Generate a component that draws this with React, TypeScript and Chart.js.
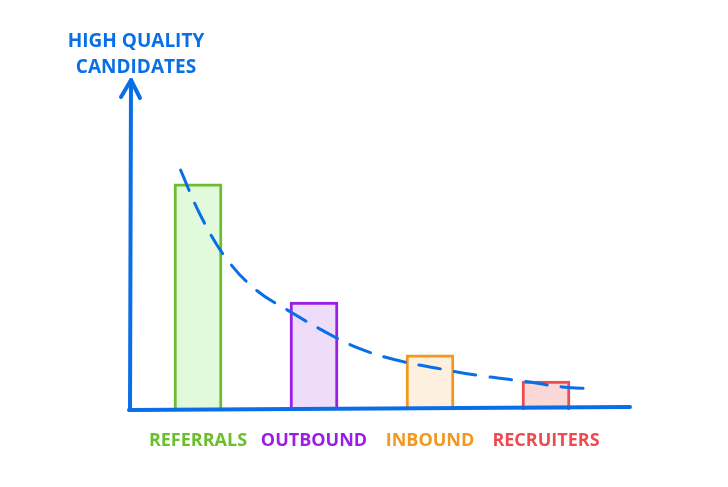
import React, { useEffect, useRef } from "react";
import { Chart, registerables } from "chart.js";

Chart.register(...registerables);

const categories = ["REFERRALS", "OUTBOUND", "INBOUND", "RECRUITERS"];
const candidateValues = [68.5, 32.7, 16.7, 8.8];
const trendX = [0.35, 0.52, 0.74, 1.0, 1.3, 1.6, 1.9, 2.25, 2.6, 2.95, 3.29, 3.64, 3.9];
const trendY = [72.7, 59.1, 46.1, 36.4, 29.7, 23.6, 18.5, 14.8, 12.4, 10.3, 8.8, 7.0, 6.4];
const titleLines = ["HIGH QUALITY", "CANDIDATES"];

const BLUE = "#0a6fe6";
const borderColors = ["#6bbf2c", "#9a1ee6", "#f2981e", "#ee4b50"];
const fillColors = ["#e1fadc", "#eedcfb", "#fdf0df", "#fbd8d8"];

const handFont = "'Open Sans', 'DejaVu Sans', sans-serif";

const axesPlugin = {
  id: "handAxes",
  afterDatasetsDraw(chart: any) {
    const { ctx, chartArea } = chart;
    const ax = chartArea.left - 10;
    const bottom = chartArea.bottom;
    ctx.save();
    ctx.strokeStyle = BLUE;
    ctx.lineWidth = 4;
    ctx.lineCap = "round";
    ctx.lineJoin = "round";
    ctx.beginPath();
    ctx.moveTo(ax, bottom);
    ctx.lineTo(ax + 1, chartArea.top);
    ctx.stroke();
    ctx.beginPath();
    ctx.moveTo(ax - 9, chartArea.top + 17);
    ctx.lineTo(ax + 1, chartArea.top);
    ctx.lineTo(ax + 10, chartArea.top + 18);
    ctx.stroke();
    ctx.beginPath();
    ctx.moveTo(ax - 1, bottom);
    ctx.lineTo(chartArea.right + 26, bottom - 3);
    ctx.stroke();
    ctx.fillStyle = BLUE;
    ctx.font = `bold 19px ${handFont}`;
    ctx.textAlign = "center";
    ctx.textBaseline = "middle";
    ctx.fillText(titleLines[0], ax + 6, 42);
    ctx.fillText(titleLines[1], ax + 6, 68);
    ctx.restore();
  },
};

export default function App() {
  const canvasRef = useRef<HTMLCanvasElement | null>(null);

  useEffect(() => {
    document.body.style.margin = "0";
    document.body.style.background = "#ffffff";
    const canvas = canvasRef.current;
    if (!canvas) return;
    const chart = new Chart(canvas, {
      type: "bar",
      data: {
        labels: categories,
        datasets: [
          {
            type: "bar",
            data: candidateValues,
            backgroundColor: fillColors,
            borderColor: borderColors,
            borderWidth: 3,
            grouped: false,
            barThickness: 48,
            xAxisID: "x",
            yAxisID: "y",
            order: 2,
          } as any,
          {
            type: "line",
            data: trendX.map((x, i) => ({ x, y: trendY[i] })),
            borderColor: BLUE,
            borderWidth: 3,
            borderDash: [22, 14],
            borderCapStyle: "round",
            tension: 0.4,
            pointRadius: 0,
            fill: false,
            xAxisID: "xt",
            yAxisID: "y",
            order: 1,
          } as any,
        ],
      },
      options: {
        animation: false,
        responsive: true,
        maintainAspectRatio: false,
        layout: { padding: { left: 140, right: 124, top: 80, bottom: 17 } },
        plugins: { legend: { display: false }, tooltip: { enabled: false }, title: { display: false } },
        scales: {
          x: {
            type: "category",
            offset: true,
            grid: { display: false },
            border: { display: false },
            afterFit: (s: any) => {
              s.height = 60;
            },
            ticks: {
              padding: 12,
              color: borderColors,
              font: { family: handFont, size: 18, weight: "bold" },
              maxRotation: 0,
            },
          },
          xt: {
            type: "linear",
            display: false,
            offset: false,
            min: 0,
            max: 4,
          },
          y: {
            display: false,
            min: 0,
            max: 100,
          },
        },
      } as any,
      plugins: [axesPlugin],
    });
    return () => chart.destroy();
  }, []);

  return (
    <div style={{ position: "fixed", left: 0, top: 0, width: 728, height: 487, background: "#fff" }}>
      <canvas ref={canvasRef} />
    </div>
  );
}
